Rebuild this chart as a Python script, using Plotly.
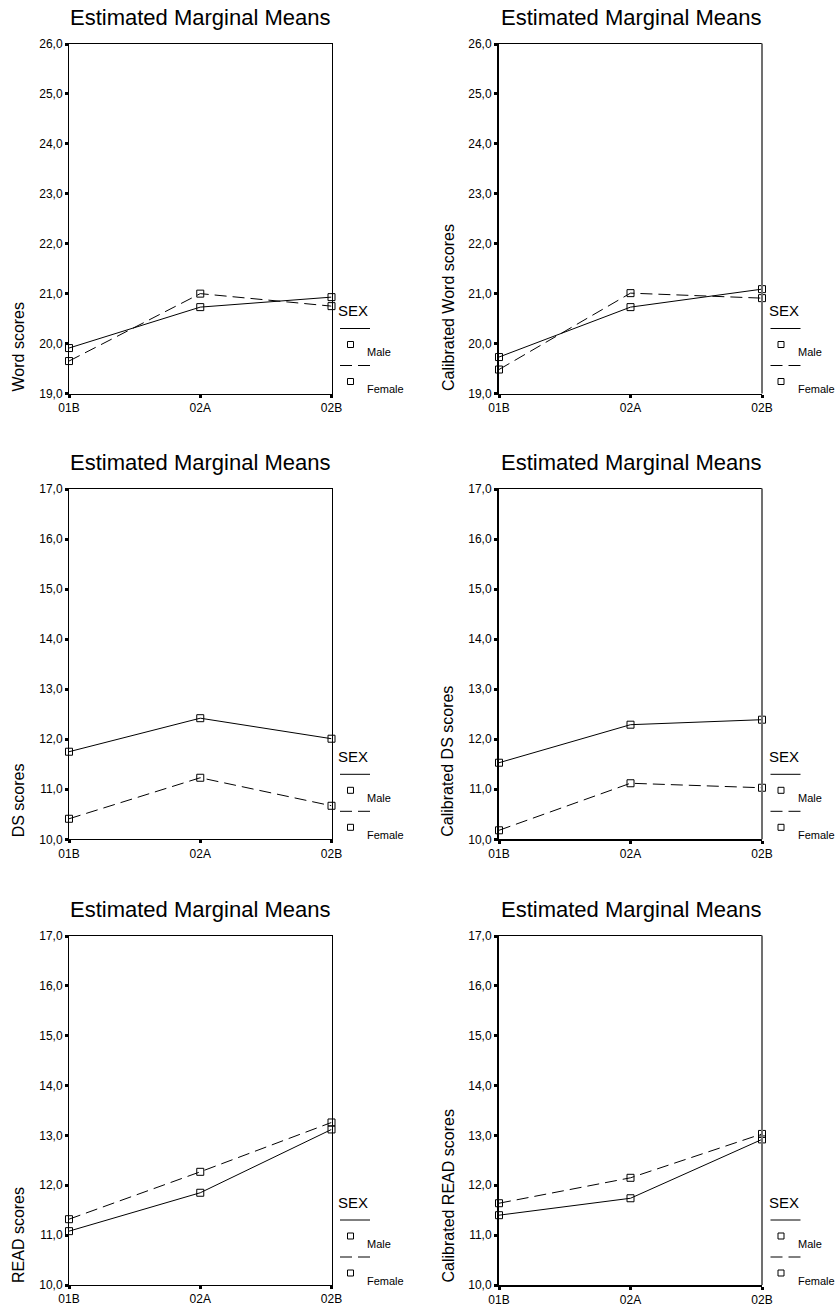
import plotly.graph_objects as go

W, H = 838, 1309

categories = ["01B", "02A", "02B"]
panel_title = "Estimated Marginal Means"
y_titles = ["Word scores", "Calibrated Word scores",
            "DS scores", "Calibrated DS scores",
            "READ scores", "Calibrated READ scores"]
legend_title = "SEX"
series_names = ["Male", "Female"]

male_word = [19.91, 20.73, 20.93]
female_word = [19.65, 21.00, 20.75]
male_cal_word = [19.73, 20.73, 21.09]
female_cal_word = [19.48, 21.01, 20.91]
male_ds = [11.75, 12.42, 12.01]
female_ds = [10.41, 11.23, 10.67]
male_cal_ds = [11.53, 12.29, 12.39]
female_cal_ds = [10.18, 11.12, 11.03]
male_read = [11.08, 11.85, 13.12]
female_read = [11.32, 12.27, 13.26]
male_cal_read = [11.40, 11.74, 12.92]
female_cal_read = [11.64, 12.15, 13.03]

y_ranges = [[19, 26], [19, 26], [10, 17], [10, 17], [10, 17], [10, 17]]

panels = [
    (male_word, female_word),
    (male_cal_word, female_cal_word),
    (male_ds, female_ds),
    (male_cal_ds, female_cal_ds),
    (male_read, female_read),
    (male_cal_read, female_cal_read),
]

FONT = "Arial, Liberation Sans, sans-serif"

# layout geometry in window pixels
col_x = [(69, 331.5), (499, 762)]
row_y = [(44, 393.5), (489, 839.3), (936, 1285)]


def px_x(p):
    return p / W


def px_y(p):
    return 1 - p / H


fig = go.Figure()
shapes = []
annotations = []
DASH = "12px,6px"

for i, (male, female) in enumerate(panels):
    r, c = divmod(i, 2)
    n = "" if i == 0 else str(i + 1)
    L, R = col_x[c]
    T, B = row_y[r]
    xa, ya = "x" + n, "y" + n

    fig.add_trace(go.Scatter(
        x=categories, y=male, xaxis=xa, yaxis=ya, mode="lines+markers",
        name=series_names[0], showlegend=False, cliponaxis=False,
        line=dict(color="black", width=1),
        marker=dict(symbol="square-open", size=7, color="black",
                    line=dict(width=1, color="black"))))
    fig.add_trace(go.Scatter(
        x=categories, y=female, xaxis=xa, yaxis=ya, mode="lines+markers",
        name=series_names[1], showlegend=False, cliponaxis=False,
        line=dict(color="black", width=1, dash=DASH),
        marker=dict(symbol="square-open", size=7, color="black",
                    line=dict(width=1, color="black"))))

    lw_y = 1 if c == 0 else 2
    lw_x = 1 if c == 0 else 1.5
    fig.layout["xaxis" + n] = dict(
        domain=[px_x(L), px_x(R)], anchor=ya, type="category",
        range=[0, 2], showline=True, linecolor="black", linewidth=lw_x,
        mirror=True, ticks="outside", ticklen=3, tickwidth=3,
        tickcolor="black", showgrid=False, zeroline=False, automargin=False,
        tickfont=dict(family=FONT, size=12, color="black"), fixedrange=True)
    fig.layout["yaxis" + n] = dict(
        domain=[px_y(B), px_y(T)], anchor=xa, range=y_ranges[i], dtick=1,
        tickformat=".1f", showline=True, linecolor="black", linewidth=lw_y,
        mirror=(c == 0), ticks="outside", ticklen=3, tickwidth=3,
        tickcolor="black", showgrid=False, zeroline=False, automargin=False,
        tickfont=dict(family=FONT, size=12, color="black"), fixedrange=True)

    if c == 1:
        shapes.append(dict(type="line", xref="paper", yref="paper",
                           x0=px_x(R), x1=px_x(R), y0=px_y(B), y1=px_y(T - 0.5),
                           line=dict(color="#707070", width=2), layer="above"))

    # panel title
    annotations.append(dict(text=panel_title, xref="paper", yref="paper",
                            x=px_x((L + R) / 2), y=px_y(T - 27),
                            xanchor="center", yanchor="middle", showarrow=False,
                            font=dict(family=FONT, size=22, color="black")))
    # y axis title (bottom aligned)
    annotations.append(dict(text=y_titles[i], xref="paper", yref="paper",
                            x=px_x(L - 51), y=px_y(B), textangle=-90,
                            xanchor="center", yanchor="bottom", showarrow=False,
                            font=dict(family=FONT, size=16, color="black")))
    # legend
    annotations.append(dict(text=legend_title, xref="paper", yref="paper",
                            x=px_x(R + 4.5), y=px_y(B - 83), xanchor="left",
                            yanchor="middle", showarrow=False,
                            font=dict(family=FONT, size=15, color="black")))
    for k, (dash, name) in enumerate([("solid", series_names[0]),
                                       (DASH, series_names[1])]):
        ly = B - 65 + k * 37
        shapes.append(dict(type="line", xref="paper", yref="paper",
                           x0=px_x(R + 8.5), x1=px_x(R + 38.5),
                           y0=px_y(ly), y1=px_y(ly),
                           line=dict(color="black", width=1, dash=dash)))
        sy = ly + 16
        shapes.append(dict(type="rect", xref="paper", yref="paper",
                           x0=px_x(R + 16), x1=px_x(R + 22),
                           y0=px_y(sy + 3), y1=px_y(sy - 3),
                           line=dict(color="black", width=1)))
        annotations.append(dict(text=name, xref="paper", yref="paper",
                                x=px_x(R + 33.5), y=px_y(ly + 23.5),
                                xanchor="left", yanchor="middle", showarrow=False,
                                font=dict(family=FONT, size=11, color="black")))

fig.update_layout(
    width=W, height=H, margin=dict(l=0, r=0, t=0, b=0, autoexpand=False),
    paper_bgcolor="white", plot_bgcolor="white",
    separators=", ", showlegend=False, hovermode=False,
    shapes=shapes, annotations=annotations,
    font=dict(family=FONT, color="black"),
)

fig.write_html(
    "out.html",
    config={"displayModeBar": False, "staticPlot": True},
    post_script="document.body.style.margin='0';"
                "document.body.style.overflow='hidden';",
)
